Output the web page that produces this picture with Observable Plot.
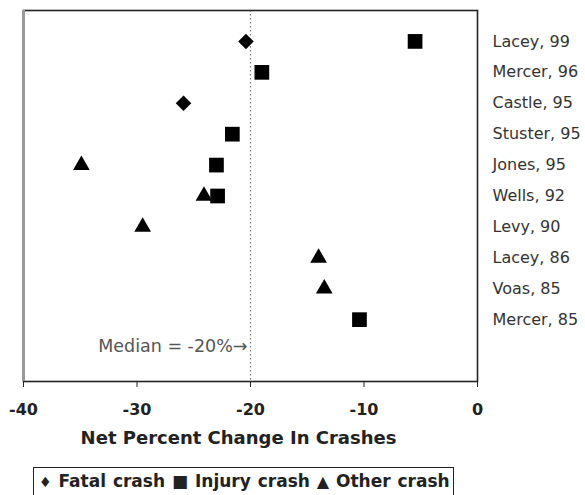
<!DOCTYPE html>
<html>
<head>
<meta charset="utf-8">
<script src="https://cdn.jsdelivr.net/npm/d3@7"></script>
<script src="https://cdn.jsdelivr.net/npm/@observablehq/plot@0.6"></script>
<style>
  html, body { margin: 0; padding: 0; background: #fff; }
  body { width: 585px; height: 495px; overflow: hidden; font-family: "DejaVu Sans", sans-serif; }
  #legend {
    margin: 5px 0 0 33px;
    width: 421px;
    height: 30px;
    box-sizing: border-box;
    border: 1.5px solid #222;
    border-bottom: none;
    font: bold 17px "DejaVu Sans", sans-serif;
    color: #222;
    line-height: 26px;
    padding-left: 5px;
    white-space: nowrap;
    word-spacing: 1px;
  }
  #legend .sym { display: inline-block; }
</style>
</head>
<body>
<div id="chart"></div>
<div id="legend"><span class="sym" style="font-size:14px">&#9830;</span> Fatal crash <span class="sym" style="font-size:17px">&#9632;</span> Injury crash <span class="sym" style="font-size:16px">&#9650;</span> Other crash</div>
<script>
// Studies, top to bottom
const studies = ["Lacey, 99", "Mercer, 96", "Castle, 95", "Stuster, 95", "Jones, 95",
                 "Wells, 92", "Levy, 90", "Lacey, 86", "Voas, 85", "Mercer, 85"];
// Net percent change in crashes by crash type (null = not reported)
const fatalCrash  = [-20.4, null, -25.9, null, null, null, null, null, null, null];
const injuryCrash = [-5.5, -19.0, null, -21.6, -23.0, -22.9, null, null, null, -10.4];
const otherCrash  = [null, null, null, null, -34.9, -24.1, -29.5, -14.0, -13.5, null];
const xTicks = [-40, -30, -20, -10, 0];
const median = -20;
const medianLabel = "Median = -20%\u2192";
const xTitle = "Net Percent Change In Crashes";

const rowsOf = (vals) => vals.map((v, i) => ({study: studies[i], row: i + 1, value: v}))
                             .filter(d => d.value != null);
const labelRows = studies.map((s, i) => ({study: s, row: i + 1}));

const chart = Plot.plot({
  width: 585,
  height: 462,
  marginLeft: 23,
  marginRight: 108,
  marginTop: 10,
  marginBottom: 81,
  style: {fontFamily: "DejaVu Sans, sans-serif", background: "#fff"},
  x: {domain: [xTicks[0], xTicks[xTicks.length - 1]]},
  y: {domain: [0, studies.length + 2], reverse: true, axis: null},
  marks: [
    Plot.ruleX([median], {stroke: "#777", strokeDasharray: "1.5,2.5", strokeWidth: 1.2}),
    Plot.frame({stroke: "#222", strokeWidth: 1.6}),
    Plot.ruleX([xTicks[0]], {stroke: "#999", strokeWidth: 3}),
    Plot.axisX({ticks: xTicks, tickSize: 6, tickPadding: 16, tickFormat: d => String(d),
                label: null, fontSize: 16, fontWeight: "bold", color: "#222", stroke: "#222"}),
    Plot.text([xTitle], {frameAnchor: "bottom", dy: 62, dx: -12, fontSize: 18, fontWeight: "bold", fill: "#222"}),
    Plot.text([medianLabel], {x: [median], y: [studies.length + 1], textAnchor: "end", dx: -3, dy: -4,
                              fontSize: 17.5, fill: "#555"}),
    Plot.dot(rowsOf(fatalCrash), {x: "value", y: "row", symbol: "diamond2", r: 7, fill: "#000", stroke: "none"}),
    Plot.dot(rowsOf(injuryCrash), {x: "value", y: "row", symbol: "square", r: 8.3, fill: "#000", stroke: "none"}),
    Plot.dot(rowsOf(otherCrash), {x: "value", y: "row", symbol: "triangle", r: 6.2, fill: "#000", stroke: "none"}),
    Plot.text(labelRows, {y: "row", text: "study", frameAnchor: "right", textAnchor: "start", dx: 15,
                          fontSize: 16, fill: "#333"})
  ]
});
document.getElementById("chart").appendChild(chart);
</script>
</body>
</html>
